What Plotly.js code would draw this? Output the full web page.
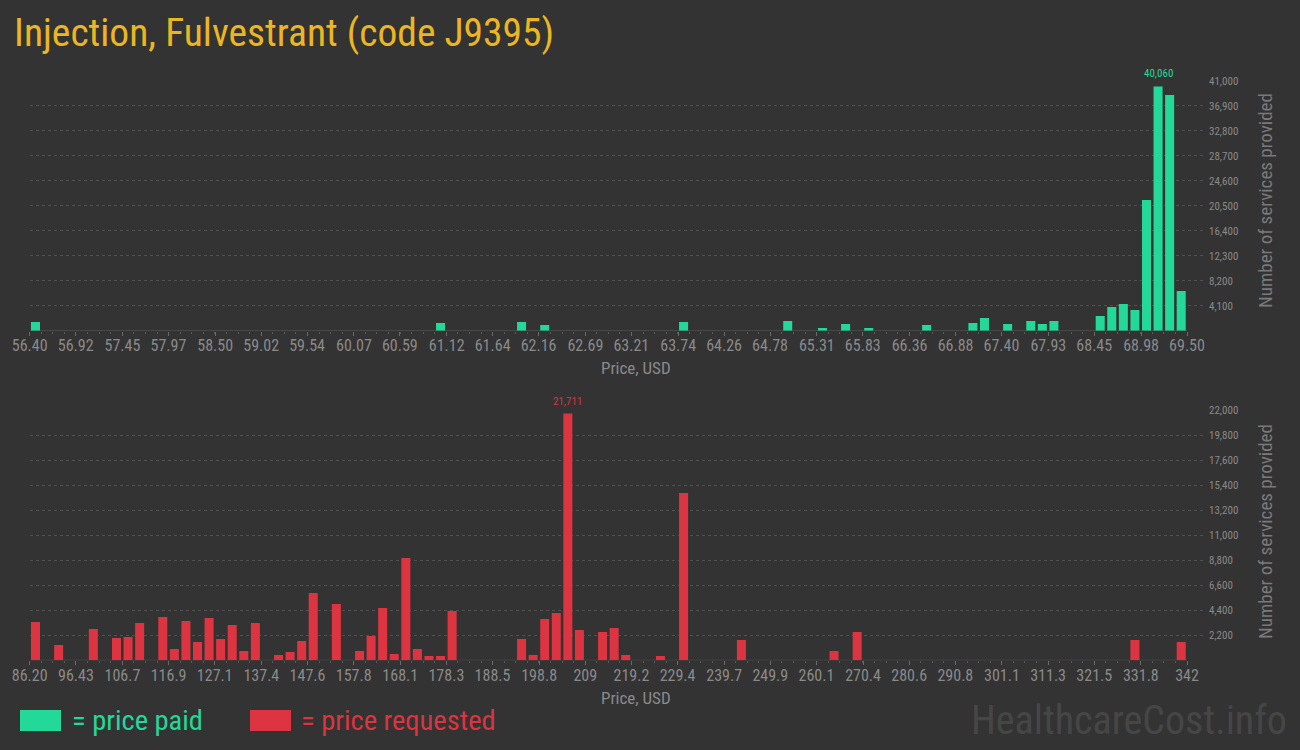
<!DOCTYPE html>
<html>
<head>
<meta charset="utf-8">
<script src="https://cdn.plot.ly/plotly-3.0.1.min.js"></script>
<style>
  html, body { margin: 0; padding: 0; background: #333333; }
  #chart { width: 1300px; height: 750px; }
</style>
</head>
<body>
<div id="chart"></div>
<script>
// ---------------- DATA ----------------
const chartTitle = "Injection, Fulvestrant (code J9395)";

// Price paid histogram: 100 bins between paidMin and paidMax
const paidMin = 56.40;
const paidMax = 69.50;
const paidCounts = [
  1430, 0, 0, 0, 0, 0, 0, 0, 0, 0,
  0, 0, 0, 0, 0, 0, 0, 0, 0, 0,
  0, 0, 0, 0, 0, 0, 0, 0, 0, 0,
  0, 0, 0, 0, 0, 1260, 0, 0, 0, 0,
  0, 0, 1430, 0, 930, 0, 0, 0, 0, 0,
  0, 0, 0, 0, 0, 0, 1430, 0, 0, 0,
  0, 0, 0, 0, 0, 1590, 0, 0, 440, 0,
  1100, 0, 440, 0, 0, 0, 0, 930, 0, 0,
  0, 1260, 2080, 0, 1100, 0, 1590, 1100, 1590, 0,
  0, 0, 2410, 3890, 4380, 3400, 21430, 40060, 38650, 6510
];
const paidTickLabels = ["56.40","56.92","57.45","57.97","58.50","59.02","59.54","60.07","60.59",
  "61.12","61.64","62.16","62.69","63.21","63.74","64.26","64.78","65.31","65.83","66.36",
  "66.88","67.40","67.93","68.45","68.98","69.50"];
const paidYTicks = [4100, 8200, 12300, 16400, 20500, 24600, 28700, 32800, 36900, 41000];

// Price requested histogram: 100 bins between reqMin and reqMax
const reqMin = 86.20;
const reqMax = 342.0;
const reqCounts = [
  3370, 0, 1350, 0, 0, 2750, 0, 1960, 2050, 3280,
  0, 3810, 995, 3460, 1610, 3720, 1875, 3110, 820, 3280,
  0, 470, 730, 1700, 5920, 0, 4960, 0, 820, 2140,
  4600, 555, 9000, 995, 380, 380, 4340, 0, 0, 0,
  0, 0, 1875, 470, 3630, 4160, 21711, 2670, 0, 2490,
  2840, 470, 0, 0, 380, 0, 14720, 0, 0, 0,
  0, 1790, 0, 0, 0, 0, 0, 0, 0, 820,
  0, 2490, 0, 0, 0, 0, 0, 0, 0, 0,
  0, 0, 0, 0, 0, 0, 0, 0, 0, 0,
  0, 0, 0, 0, 0, 1790, 0, 0, 0, 1610
];
const reqTickLabels = ["86.20","96.43","106.7","116.9","127.1","137.4","147.6","157.8","168.1",
  "178.3","188.5","198.8","209","219.2","229.4","239.7","249.9","260.1","270.4","280.6",
  "290.8","301.1","311.3","321.5","331.8","342"];
const reqYTicks = [2200, 4400, 6600, 8800, 11000, 13200, 15400, 17600, 19800, 22000];

const xTitle = "Price, USD";
const yTitle = "Number of services provided";
const legendPaid = "= price paid";
const legendReq = "= price requested";
const watermark = "HealthcareCost.info";

// ---------------- STYLE ----------------
const BG = "#333333";
const GREEN = "#22d99a";
const RED = "#dc3441";
const GOLD = "#ebb621";
const GREY = "#8a8a8a";
const GRID = "#505050";
const FONT = "'Roboto Condensed', 'Liberation Sans Narrow', 'DejaVu Sans Condensed', sans-serif";

const W = 1300, H = 750;
const plotL = 29.7, axisR = 1187, plotR = 1204;
const px = v => v / W;
const py = v => (H - v) / H;

function binCenters(min, max, n) {
  const w = (max - min) / n;
  return Array.from({length: n}, (_, i) => min + (i + 0.5) * w);
}
function binEdges(min, max, n) {
  const w = (max - min) / n;
  return Array.from({length: n + 1}, (_, i) => min + i * w);
}
function extendedRange(min, max) {
  return [min, min + (max - min) * (plotR - plotL) / (axisR - plotL)];
}
const fmt = v => v.toLocaleString("en-US");

const paidX = binCenters(paidMin, paidMax, paidCounts.length);
const reqX = binCenters(reqMin, reqMax, reqCounts.length);

const traces = [
  {type: "bar", x: paidX, y: paidCounts, xaxis: "x", yaxis: "y",
   marker: {color: GREEN}, hoverinfo: "x+y", showlegend: false},
  {type: "bar", x: reqX, y: reqCounts, xaxis: "x2", yaxis: "y2",
   marker: {color: RED}, hoverinfo: "x+y", showlegend: false}
];

function xAxis(min, max, labels, n, anchor) {
  return {
    domain: [px(plotL), px(plotR)],
    range: extendedRange(min, max),
    anchor: anchor,
    tickmode: "array",
    tickvals: labels.map(parseFloat),
    ticktext: labels,
    ticks: "outside", ticklen: 4, tickwidth: 1, tickcolor: "#6a6a6a",
    ticklabelstandoff: -4,
    tickfont: {family: FONT, size: 16, color: GREY},
    minor: {tickmode: "array", tickvals: binEdges(min, max, n), ticks: "outside",
            ticklen: 2, tickcolor: "#5a5a5a", showgrid: false},
    showgrid: false, zeroline: false, showline: false, fixedrange: true
  };
}
function yAxis(domainTopPx, domainBotPx, maxVal, ticks, anchor) {
  return {
    domain: [py(domainBotPx), py(domainTopPx)],
    range: [0, maxVal],
    anchor: anchor,
    side: "right",
    tickmode: "array", tickvals: ticks, tickformat: ",",
    ticks: "", ticklabelstandoff: 4,
    tickfont: {family: FONT, size: 11, color: GREY},
    showgrid: true, gridcolor: GRID, griddash: "3px,3px", gridwidth: 1,
    zeroline: false, showline: false, fixedrange: true
  };
}

const paidMaxIdx = paidCounts.indexOf(Math.max(...paidCounts));
const reqMaxIdx = reqCounts.indexOf(Math.max(...reqCounts));

const annotations = [
  {xref: "x", yref: "y", x: paidX[paidMaxIdx], y: paidCounts[paidMaxIdx], text: fmt(paidCounts[paidMaxIdx]),
   showarrow: false, yanchor: "bottom", yshift: 4, font: {family: FONT, size: 11, color: GREEN}},
  {xref: "x2", yref: "y2", x: reqX[reqMaxIdx], y: reqCounts[reqMaxIdx], text: fmt(reqCounts[reqMaxIdx]),
   showarrow: false, yanchor: "bottom", yshift: 4, font: {family: FONT, size: 11, color: RED}},
  {xref: "paper", yref: "paper", x: px(636), y: py(368), text: xTitle, showarrow: false,
   xanchor: "center", yanchor: "middle", font: {family: FONT, size: 17, color: GREY}},
  {xref: "paper", yref: "paper", x: px(636), y: py(698), text: xTitle, showarrow: false,
   xanchor: "center", yanchor: "middle", font: {family: FONT, size: 17, color: GREY}},
  {xref: "paper", yref: "paper", x: px(1265), y: py(201), text: yTitle, showarrow: false, textangle: -90,
   xanchor: "center", yanchor: "middle", font: {family: FONT, size: 19, color: "#7a7a7a"}},
  {xref: "paper", yref: "paper", x: px(1265), y: py(532), text: yTitle, showarrow: false, textangle: -90,
   xanchor: "center", yanchor: "middle", font: {family: FONT, size: 19, color: "#7a7a7a"}},
  {xref: "paper", yref: "paper", x: px(70), y: py(720), text: legendPaid, showarrow: false,
   xanchor: "left", yanchor: "middle", font: {family: FONT, size: 28.5, color: GREEN}},
  {xref: "paper", yref: "paper", x: px(299), y: py(720), text: legendReq, showarrow: false,
   xanchor: "left", yanchor: "middle", font: {family: FONT, size: 28.5, color: RED}},
  {xref: "paper", yref: "paper", x: px(1289), y: py(720), text: watermark, showarrow: false,
   xanchor: "right", yanchor: "middle", font: {family: FONT, size: 40, color: "#464646"}}
];

const shapes = [
  {type: "line", xref: "x", yref: "y", x0: paidMin, x1: paidMax, y0: 0, y1: 0,
   line: {color: "#555555", width: 1}, layer: "below"},
  {type: "line", xref: "x2", yref: "y2", x0: reqMin, x1: reqMax, y0: 0, y1: 0,
   line: {color: "#555555", width: 1}, layer: "below"},
  {type: "rect", xref: "paper", yref: "paper", x0: px(20), x1: px(61), y0: py(731), y1: py(710),
   fillcolor: GREEN, line: {width: 0}},
  {type: "rect", xref: "paper", yref: "paper", x0: px(250), x1: px(291), y0: py(731), y1: py(710),
   fillcolor: RED, line: {width: 0}}
];

const layout = {
  width: W, height: H,
  margin: {l: 0, r: 0, t: 0, b: 0},
  paper_bgcolor: BG, plot_bgcolor: BG,
  font: {family: FONT, color: GREY},
  title: {text: chartTitle, x: px(14), xanchor: "left", xref: "paper",
          y: py(32), yanchor: "middle", yref: "paper",
          font: {family: FONT, size: 39.5, color: GOLD}},
  bargap: 0.22,
  showlegend: false,
  xaxis: xAxis(paidMin, paidMax, paidTickLabels, paidCounts.length, "y"),
  yaxis: yAxis(80.7, 330.7, paidYTicks[paidYTicks.length - 1], paidYTicks, "x"),
  xaxis2: xAxis(reqMin, reqMax, reqTickLabels, reqCounts.length, "y2"),
  yaxis2: yAxis(410.3, 660.3, reqYTicks[reqYTicks.length - 1], reqYTicks, "x2"),
  annotations: annotations,
  shapes: shapes
};

Plotly.newPlot("chart", traces, layout, {displayModeBar: false, staticPlot: true});
</script>
</body>
</html>
